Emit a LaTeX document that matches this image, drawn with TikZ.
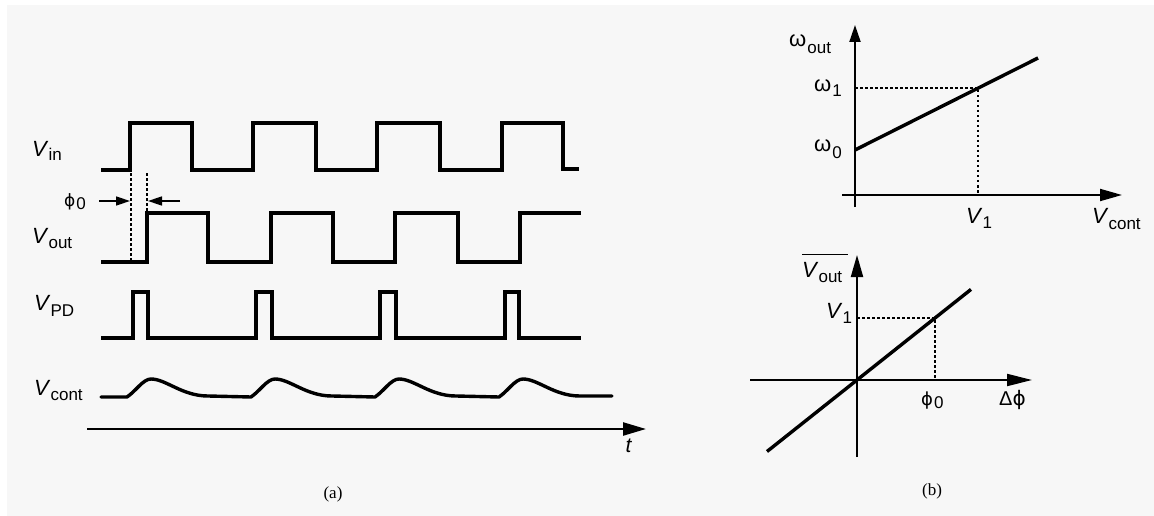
\documentclass[tikz,border=0pt]{standalone}
\usepackage{fontspec}
\setmainfont{Liberation Sans}
\newfontfamily\capfont{Liberation Serif}
\newfontfamily\dvs{DejaVu Sans}
\usetikzlibrary{arrows.meta}
\definecolor{bgray}{HTML}{F7F7F7}
% V label: #1 subscript, #2 lowering of subscript
\newcommand{\lblV}[2]{\fontsize{22}{24}\selectfont\textit{V}\raisebox{-#2pt}{\fontsize{17}{18}\selectfont #1}}
% Greek label: #1 symbol, #2 subscript, #3 lowering
\newcommand{\lblG}[3]{\fontsize{22}{24}\selectfont #1\hspace{1pt}\raisebox{-#3pt}{\fontsize{17}{18}\selectfont #2}}
\newcommand{\phisym}{{\dvs ϕ}}
\begin{document}
\begin{tikzpicture}[x=1pt,y=-1pt,
  wave/.style={line width=3.4pt, line join=miter},
  curve/.style={line width=3.4pt, line join=round, line cap=round},
  ax/.style={line width=2pt, -{Triangle[length=22pt,width=12pt]}},
  guide/.style={line width=1.2pt, dash pattern=on 2.5pt off 2.5pt},
  phiarrow/.style={line width=1.6pt, -{Triangle[length=14pt,width=9pt]}},
  lbl/.style={inner sep=0pt, anchor=base west},
  captext/.style={inner sep=0pt, font=\capfont\fontsize{17}{20}\selectfont}]
\useasboundingbox (0,0) rectangle (1154,516);
\fill[white] (0,0) rectangle (1154,516);
\fill[bgray] (7,5) rectangle (1154,516);

% ---------- (a) waveforms ----------
\draw[wave] (101,170) -- (130,170) -- (130,123) -- (192,123) -- (192,170)
  -- (253,170) -- (253,123) -- (316,123) -- (316,170) -- (377,170) -- (377,123)
  -- (440,123) -- (440,170) -- (502,170) -- (502,123) -- (563,123) -- (563,169) -- (579,169);
\draw[wave] (101,262) -- (147,262) -- (147,213) -- (208,213) -- (208,262)
  -- (271,262) -- (271,213) -- (333,213) -- (333,262) -- (395,262) -- (395,213)
  -- (458,213) -- (458,262) -- (520,262) -- (520,213) -- (581,213);
\draw[wave] (101,338) -- (133,338) -- (133,292) -- (148,292) -- (148,338)
  -- (256,338) -- (256,292) -- (272,292) -- (272,338) -- (380,338) -- (380,292)
  -- (396,292) -- (396,338) -- (505,338) -- (505,292) -- (519,292) -- (519,338) -- (581,338);
\draw[curve] (101,397) -- (127,397)
  \foreach \k in {0,1,2,3} {
   -- ({127+124*\k},397) .. controls ({136+124*\k},391) and ({143+124*\k},379) .. ({151+124*\k},379)
   .. controls ({166+124*\k},379) and ({182+124*\k},396) .. ({208+124*\k},396) }
  -- (612,396);

\draw[guide] (131,173) -- (131,264);
\draw[guide] (147,173) -- (147,213);
\coordinate (pa1) at (99,201);
\coordinate (pa2) at (130,201);
\coordinate (pb1) at (180,201);
\coordinate (pb2) at (148,201);
\draw[phiarrow] (pa1) -- (pa2);
\draw[phiarrow] (pb1) -- (pb2);

\coordinate (ta0) at (87,429);
\coordinate (ta1) at (646,429);
\draw[ax, line width=2.4pt, -{Triangle[length=23pt,width=13pt]}] (ta0) -- (ta1);

\node[lbl] (lin) at (32,157) {\lblV{in}{4}};
\node[lbl] (lout) at (32,243) {\lblV{out}{5}};
\node[lbl] (lpd) at (34,310) {\lblV{PD}{6}};
\node[lbl] (lcont) at (34,395) {\lblV{cont}{5}};
\node[lbl] (lphi) at (64,206) {\lblG{\fontsize{17}{20}\selectfont\phisym}{0}{3}};
\node[inner sep=0pt] (lt) at (629,446) {\fontsize{21}{24}\selectfont\textit{t}};
\node[captext] (capa) at (333,494) {(a)};

% ---------- (b) top: VCO characteristic ----------
\coordinate (o1a) at (855,207);
\coordinate (o1b) at (855,25);
\coordinate (o1c) at (842,195);
\coordinate (o1d) at (1122,195);
\draw[ax, -{Triangle[length=17pt,width=11pt]}] (o1a) -- (o1b);
\draw[ax] (o1c) -- (o1d);
\coordinate (w0) at (855,150);
\coordinate (wend) at (1038,58);
\coordinate (w1) at (978,88);
\draw[curve, line cap=butt] (w0) -- (wend);
\draw[guide] (855,88) -- (w1) -- (978,195);

\node[lbl] (lwout) at (789,47) {\lblG{ω}{out}{7}};
\node[lbl] (lw1) at (814,92) {\lblG{ω}{1}{5}};
\node[lbl] (lw0) at (814,152) {\lblG{ω}{0}{6}};
\node[lbl] (lv1a) at (966,223) {\lblV{1}{5}};
\node[lbl] (lvc) at (1092,223) {\lblV{cont}{6}};

% ---------- (b) bottom: PD characteristic ----------
\coordinate (o2a) at (857,457);
\coordinate (o2b) at (857,255);
\coordinate (o2c) at (750,380);
\coordinate (o2d) at (1032,380);
\draw[ax] (o2a) -- (o2b);
\draw[ax, -{Triangle[length=25pt,width=12pt]}] (o2c) -- (o2d);
\coordinate (p0) at (767,451.5);
\coordinate (pend) at (971,289.4);
\coordinate (p1) at (935,318);
\draw[curve, line cap=butt] (p0) -- (pend);
\draw[guide] (857,318) -- (p1) -- (935,380);

\node[lbl] (lvbar) at (802,277) {\lblV{out}{5}};
\draw[line width=1pt] (802,254) -- (848,254);
\node[lbl] (lv1b) at (826,318) {\lblV{1}{5}};
\node[lbl] (lphi0) at (921,405) {\lblG{\fontsize{18}{20}\selectfont\phisym}{0}{3}};
\node[lbl] (ldphi) at (999,405) {\fontsize{20}{22}\selectfont Δ\phisym};
\node[captext] (capb) at (932,491) {(b)};
\end{tikzpicture}
\end{document}
